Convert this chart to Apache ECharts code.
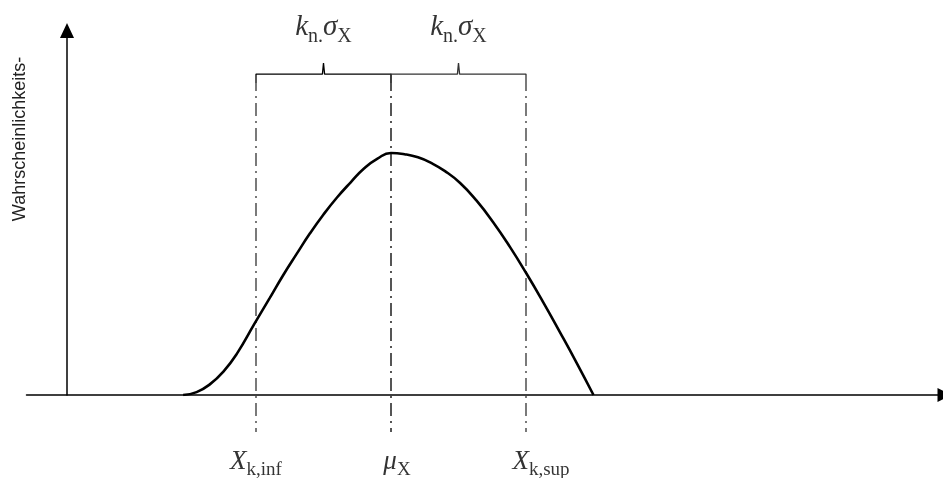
<!DOCTYPE html>
<html>
<head>
<meta charset="utf-8">
<script src="https://cdn.jsdelivr.net/npm/echarts@6/dist/echarts.min.js"></script>
<style>
  html, body { margin: 0; padding: 0; background: #fff; }
  #chart { width: 943px; height: 478px; }
</style>
</head>
<body>
<div id="chart"></div>
<script>
// Probability density curve (x in arbitrary units, peak normalised to 1)
const curveX = [4.3, 4.8, 5.3, 5.8, 6.3, 6.95, 7.5, 8.0, 8.5, 9.0, 9.5, 10.0, 10.5, 11.0, 11.5, 12.0,
                12.5, 13.0, 13.5, 14.0, 14.56, 15.17, 15.79, 16.41, 17.0, 17.64, 18.26, 18.88, 19.5];
const curveY = [0, 0.012, 0.045, 0.098, 0.172, 0.296, 0.399, 0.494, 0.582, 0.668, 0.746, 0.816, 0.878, 0.936, 0.977, 1.0,
                0.995, 0.982, 0.958, 0.925, 0.876, 0.803, 0.713, 0.611, 0.505, 0.383, 0.259, 0.132, 0];

// Characteristic values: lower bound, mean, upper bound
const mu = 12;
const kSigma = 5;
const markerX = [mu - kSigma, mu, mu + kSigma];

// Texts
const yAxisTitle = 'Wahrscheinlichkeits-';
const topLabel = '{i|k}{s|n.}{i|σ}{s|X}';
const bottomLabels = ['{i|X}{s|k,inf}', '{i|μ}{s|X}', '{i|X}{s|k,sup}'];

// Vertical levels for the brace and guide lines (axis units)
const braceEnd = 1.289, braceBar = 1.326, braceTip = 1.372, guideBottom = -0.153;
const topLabelLevel = 1.504, bottomLabelLevel = -0.285;

const serif = '"Liberation Serif", "DejaVu Serif", serif';
const rich = {
  i: { fontFamily: serif, fontStyle: 'italic', fontSize: 27, color: '#000', verticalAlign: 'bottom', lineHeight: 34, padding: [0, 0, 6, 0] },
  s: { fontFamily: serif, fontSize: 19, color: '#000', verticalAlign: 'bottom', lineHeight: 34, padding: [0, 0, 1, 0] }
};
const richTop = {
  i: Object.assign({}, rich.i, { fontSize: 29 }),
  s: Object.assign({}, rich.s, { fontSize: 20 })
};

function halfBrace(a, b) {
  const m = (a + b) / 2;
  return [[a, braceEnd], [a, braceBar], [m - 0.04, braceBar], [m, braceTip], [m + 0.04, braceBar], [b, braceBar], [b, braceEnd]];
}

const guideSeries = markerX.map((x, i) => ({
  type: 'line',
  data: [[x, braceEnd], [x, guideBottom]],
  symbol: 'none',
  clip: false,
  silent: true,
  z: 1,
  lineStyle: i === 1
    ? { color: '#555', width: 2, type: [13, 5, 2, 5], dashOffset: 5 }
    : { color: '#222', width: 1.2, type: [13, 5, 2, 5], dashOffset: 5 }
}));

const labelOffsets = [0, 6, 15];

const chart = echarts.init(document.getElementById('chart'), null, { renderer: 'canvas' });
chart.setOption({
  animation: false,
  backgroundColor: '#fff',
  grid: { left: 26.5, top: 32, width: 918, height: 363, containLabel: false, outerBoundsMode: 'none' },
  xAxis: {
    type: 'value', min: -1.5, max: 32.5,
    axisLine: { onZero: true, symbol: ['none', 'triangle'], symbolSize: [14, 14], lineStyle: { color: '#000', width: 1.5 } },
    axisTick: { show: false }, axisLabel: { show: false }, splitLine: { show: false }
  },
  yAxis: {
    type: 'value', min: 0, max: 1.5,
    axisLine: { onZero: true, symbol: ['none', 'triangle'], symbolSize: [14, 15], symbolOffset: [0, 1.5], lineStyle: { color: '#000', width: 1.5 } },
    axisTick: { show: false }, axisLabel: { show: false }, splitLine: { show: false }
  },
  graphic: [{
    type: 'text', x: 20, y: 139, rotation: Math.PI / 2,
    style: { text: yAxisTitle, fontFamily: '"Liberation Sans", Arial, sans-serif', fontSize: 18, fill: '#222', align: 'center', verticalAlign: 'middle' }
  }],
  series: [
    ...guideSeries,
    {
      type: 'line',
      data: curveX.map((x, i) => [x, curveY[i]]),
      smooth: 0.5,
      symbol: 'none',
      silent: true,
      z: 3,
      lineStyle: { color: '#000', width: 2.6 }
    },
    {
      type: 'line', data: halfBrace(markerX[0], markerX[1]), symbol: 'none', clip: false, silent: true, z: 2,
      lineStyle: { color: '#000', width: 1.3 }
    },
    {
      type: 'line', data: halfBrace(markerX[1], markerX[2]), symbol: 'none', clip: false, silent: true, z: 2,
      lineStyle: { color: '#333', width: 1.3 }
    },
    {
      type: 'scatter', symbolSize: 0, clip: false, silent: true, z: 5,
      data: [[(markerX[0] + markerX[1]) / 2, topLabelLevel], [(markerX[1] + markerX[2]) / 2, topLabelLevel]],
      label: { show: true, position: 'inside', formatter: topLabel, rich: richTop }
    },
    {
      type: 'scatter', symbolSize: 0, clip: false, silent: true, z: 5,
      data: markerX.map((x, i) => ({
        value: [x, bottomLabelLevel],
        label: { offset: [labelOffsets[i], 0], formatter: bottomLabels[i] }
      })),
      label: { show: true, position: 'inside', rich: rich }
    }
  ]
});
</script>
</body>
</html>
